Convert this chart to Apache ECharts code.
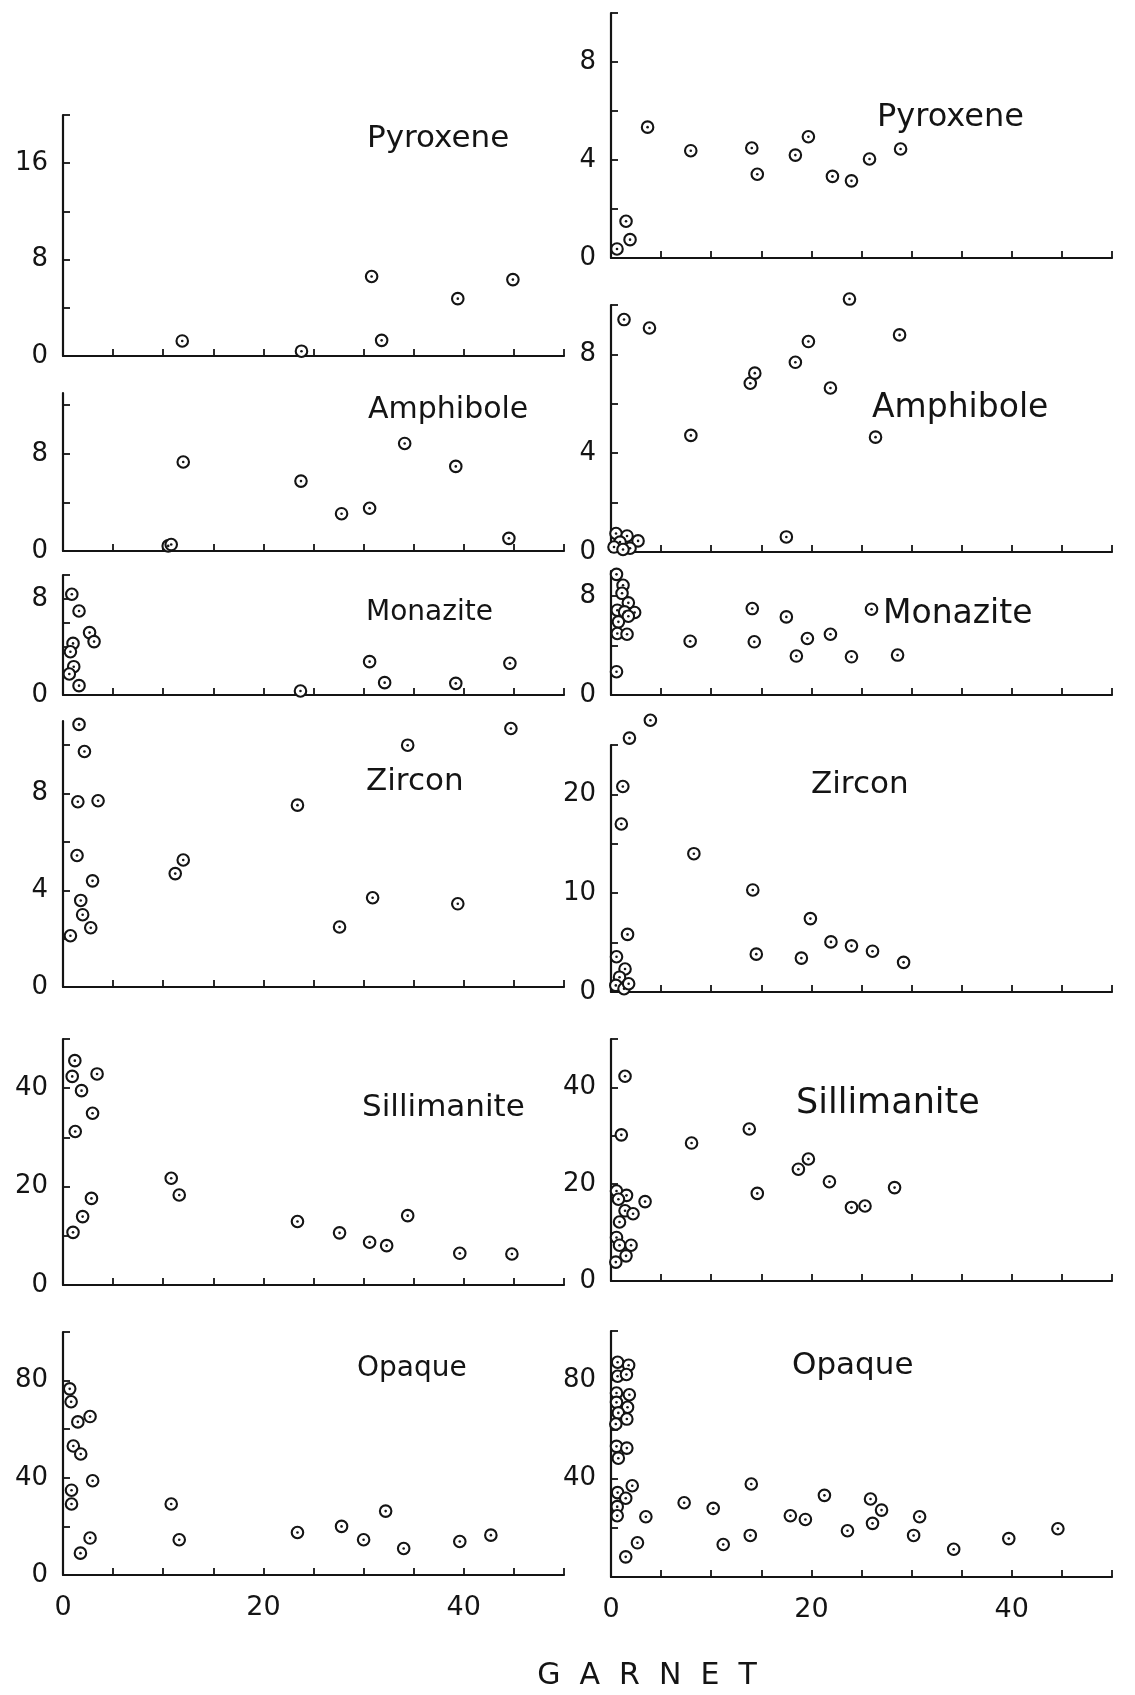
<!DOCTYPE html>
<html><head><meta charset="utf-8">
<script src="https://cdn.jsdelivr.net/npm/echarts@6/dist/echarts.min.js"></script>
<style>html,body{margin:0;padding:0;background:#fff}#c{width:1135px;height:1695px}</style>
</head><body><div id="c"></div>
<script>
// ---- data (x = garnet, y = mineral) ----
const pyroxeneL = [[11.9,1.25],[23.8,0.4],[30.8,6.6],[31.8,1.3],[39.4,4.76],[44.9,6.34]];
const pyroxeneR = [[0.6,0.37],[1.5,1.5],[1.9,0.75],[3.65,5.34],[7.96,4.38],[14.05,4.49],[14.6,3.42],[18.4,4.2],[19.7,4.95],[22.1,3.33],[24.0,3.15],[25.8,4.04],[28.9,4.45]];
const amphiboleL = [[10.5,0.42],[10.8,0.53],[12.0,7.32],[23.75,5.75],[27.8,3.07],[30.6,3.52],[34.1,8.85],[39.2,6.96],[44.5,1.04]];
const amphiboleR = [[1.3,9.41],[3.84,9.07],[7.97,4.72],[13.9,6.83],[14.35,7.24],[18.4,7.68],[19.7,8.52],[21.9,6.64],[23.8,10.24],[26.4,4.65],[28.8,8.79],[17.5,0.61],[0.5,0.75],[1.6,0.65],[2.7,0.45],[0.9,0.4],[0.3,0.2],[1.9,0.15],[1.2,0.1]];
const monaziteL = [[0.88,8.4],[1.6,7.0],[2.65,5.2],[3.1,4.45],[1.0,4.3],[0.74,3.6],[1.07,2.36],[0.63,1.75],[1.6,0.78],[23.7,0.33],[30.6,2.78],[32.1,1.03],[39.2,0.97],[44.6,2.64]];
const monaziteR = [[0.55,9.73],[1.2,8.85],[1.1,8.2],[1.73,7.43],[0.63,6.84],[1.36,6.7],[2.36,6.65],[1.73,6.35],[0.74,5.9],[0.63,4.96],[1.6,4.9],[0.55,1.88],[7.9,4.34],[14.1,6.97],[14.3,4.29],[17.5,6.3],[18.5,3.14],[19.6,4.56],[21.9,4.9],[24.0,3.08],[26.0,6.92],[28.6,3.22]];
const zirconL = [[1.6,10.86],[2.14,9.74],[1.48,7.66],[3.5,7.7],[1.4,5.44],[2.95,4.39],[1.77,3.58],[1.96,2.99],[2.77,2.45],[0.74,2.12],[11.2,4.69],[12.0,5.25],[23.4,7.52],[27.6,2.48],[30.9,3.69],[34.4,10.0],[39.4,3.44],[44.7,10.69]];
const zirconR = [[3.93,27.5],[1.84,25.7],[1.18,20.8],[1.03,17.0],[8.27,14.0],[14.15,10.33],[14.5,3.83],[19.9,7.43],[19.0,3.43],[21.95,5.07],[24.0,4.67],[26.1,4.13],[29.2,3.0],[1.65,5.83],[0.55,3.57],[1.4,2.33],[0.85,1.5],[0.48,0.67],[1.3,0.33],[1.76,0.83]];
const sillimaniteL = [[1.18,45.6],[0.92,42.4],[3.4,42.9],[1.85,39.5],[2.95,34.9],[1.22,31.2],[2.84,17.6],[1.96,13.9],[1.0,10.7],[10.8,21.7],[11.6,18.3],[23.4,12.9],[27.6,10.6],[30.6,8.68],[32.3,8.0],[34.4,14.1],[39.6,6.44],[44.8,6.3]];
const sillimaniteR = [[1.4,42.3],[1.03,30.2],[8.04,28.5],[13.8,31.4],[14.6,18.1],[18.7,23.1],[19.7,25.2],[21.8,20.5],[24.0,15.2],[25.35,15.5],[28.3,19.3],[3.4,16.4],[0.55,18.6],[1.55,17.7],[0.74,16.9],[1.4,14.5],[2.2,13.9],[0.85,12.2],[0.55,9.0],[0.85,7.4],[2.0,7.4],[1.5,5.2],[0.48,3.9]];
const opaqueL = [[0.67,76.6],[0.81,71.3],[1.48,63.0],[2.7,65.2],[1.03,53.1],[1.77,49.8],[2.96,38.8],[0.85,34.9],[0.85,29.2],[2.7,15.2],[1.74,9.0],[10.8,29.2],[11.6,14.5],[23.4,17.5],[27.8,20.0],[30.0,14.5],[32.2,26.3],[34.0,10.9],[39.6,13.8],[42.7,16.4]];
const opaqueR = [[0.66,87.3],[1.76,86.1],[0.66,81.6],[1.54,82.3],[0.55,74.8],[1.83,74.1],[0.55,71.0],[1.65,69.0],[0.73,66.7],[1.58,64.2],[0.48,62.2],[0.55,53.1],[1.58,52.4],[0.73,48.3],[2.12,37.1],[0.66,34.3],[1.47,32.0],[0.62,28.6],[0.62,24.9],[3.48,24.5],[2.64,13.9],[1.47,8.2],[7.3,30.2],[10.2,27.9],[11.2,13.2],[14.0,37.8],[13.9,16.9],[17.9,24.9],[19.4,23.4],[21.3,33.2],[23.6,18.8],[25.9,31.7],[26.1,21.8],[27.0,27.2],[30.2,16.9],[30.8,24.5],[34.2,11.3],[39.7,15.6],[44.6,19.6]];

// ---- tick values and labels ----
const xTicks = [0,5,10,15,20,25,30,35,40,45,50];
const xTickLabels = [0,20,40];
const yTicksPyroxeneL = [0,4,8,12,16,20];   const yLabelsPyroxeneL = [0,8,16];
const yTicksPyroxeneR = [0,2,4,6,8,10];     const yLabelsPyroxeneR = [0,4,8];
const yTicksAmphiboleL = [0,4,8,12];        const yLabelsAmphiboleL = [0,8];
const yTicksAmphiboleR = [0,2,4,6,8,10];    const yLabelsAmphiboleR = [0,4,8];
const yTicksMonaziteL = [0,2,4,6,8,10];     const yLabelsMonaziteL = [0,8];
const yTicksMonaziteR = [0,2,4,6,8,10];     const yLabelsMonaziteR = [0,8];
const yTicksZirconL = [0,2,4,6,8,10];       const yLabelsZirconL = [0,4,8];
const yTicksZirconR = [0,5,10,15,20,25];    const yLabelsZirconR = [0,10,20];
const yTicksSillL = [0,10,20,30,40,50];     const yLabelsSillL = [0,20,40];
const yTicksSillR = [0,10,20,30,40,50];     const yLabelsSillR = [0,20,40];
const yTicksOpaqueL = [0,20,40,60,80,100];  const yLabelsOpaqueL = [0,40,80];
const yTicksOpaqueR = [0,20,40,60,80,100];  const yLabelsOpaqueR = [40,80];
const axisTitle = 'G  A  R  N  E  T';

// ---- layout (pixel geometry) ----
const colLeft = [63, 611], colWidth = 501;
const panels = [
 {title:'Pyroxene',   data:pyroxeneL,   col:0, top:115,  bottom:356,  yMax:20,  ticks:yTicksPyroxeneL,  labels:yLabelsPyroxeneL,  tx:367, ty:139,  fs:31},
 {title:'Pyroxene',   data:pyroxeneR,   col:1, top:13,   bottom:258,  yMax:10,  ticks:yTicksPyroxeneR,  labels:yLabelsPyroxeneR,  tx:877, ty:118,  fs:32},
 {title:'Amphibole',  data:amphiboleL,  col:0, top:393,  bottom:551,  yMax:13,  ticks:yTicksAmphiboleL, labels:yLabelsAmphiboleL, tx:368, ty:410,  fs:30},
 {title:'Amphibole',  data:amphiboleR,  col:1, top:305,  bottom:552,  yMax:10,  ticks:yTicksAmphiboleR, labels:yLabelsAmphiboleR, tx:872, ty:408,  fs:33},
 {title:'Monazite',   data:monaziteL,   col:0, top:575,  bottom:695,  yMax:10,  ticks:yTicksMonaziteL,  labels:yLabelsMonaziteL,  tx:366, ty:613,  fs:28},
 {title:'Monazite',   data:monaziteR,   col:1, top:571,  bottom:695,  yMax:10,  ticks:yTicksMonaziteR,  labels:yLabelsMonaziteR,  tx:883, ty:614,  fs:33},
 {title:'Zircon',     data:zirconL,     col:0, top:721,  bottom:987,  yMax:11,  ticks:yTicksZirconL,    labels:yLabelsZirconL,    tx:366, ty:782,  fs:31},
 {title:'Zircon',     data:zirconR,     col:1, top:745,  bottom:992,  yMax:25,  ticks:yTicksZirconR,    labels:yLabelsZirconR,    tx:811, ty:785,  fs:31},
 {title:'Sillimanite',data:sillimaniteL,col:0, top:1039, bottom:1285, yMax:50,  ticks:yTicksSillL,      labels:yLabelsSillL,      tx:362, ty:1108, fs:31},
 {title:'Sillimanite',data:sillimaniteR,col:1, top:1039, bottom:1281, yMax:50,  ticks:yTicksSillR,      labels:yLabelsSillR,      tx:796, ty:1104, fs:35},
 {title:'Opaque',     data:opaqueL,     col:0, top:1332, bottom:1575, yMax:100, ticks:yTicksOpaqueL,    labels:yLabelsOpaqueL,    tx:357, ty:1369, fs:28, bottomRow:true},
 {title:'Opaque',     data:opaqueR,     col:1, top:1331, bottom:1577, yMax:100, ticks:yTicksOpaqueR,    labels:yLabelsOpaqueR,    tx:792, ty:1366, fs:31, bottomRow:true}
];

const INK = '#141414';
const FONT = '"DejaVu Sans", "Liberation Sans", sans-serif';
const grid = [], xAxis = [], yAxis = [], series = [], graphic = [];
panels.forEach((p, i) => {
  grid.push({left: colLeft[p.col], top: p.top, width: colWidth, height: p.bottom - p.top, containLabel: false, outerBoundsMode: 'none'});
  xAxis.push({
    type:'value', gridIndex:i, min:0, max:50, interval:5,
    axisLine:{show:true, onZero:false, lineStyle:{color:INK, width:2.2}},
    axisTick:{show:true, inside:true, length:7, lineStyle:{color:INK, width:1.8}, customValues:xTicks},
    axisLabel:{show:!!p.bottomRow, customValues:xTickLabels, color:INK, fontSize:27, fontFamily:FONT, margin:19},
    splitLine:{show:false}
  });
  yAxis.push({
    type:'value', gridIndex:i, min:0, max:p.yMax,
    axisLine:{show:true, onZero:false, lineStyle:{color:INK, width:2.2}},
    axisTick:{show:true, inside:true, length:7, lineStyle:{color:INK, width:1.8}, customValues:p.ticks},
    axisLabel:{show:true, customValues:p.labels, color:INK, fontSize:26, fontFamily:FONT, margin:15},
    splitLine:{show:false}
  });
  series.push({
    type:'scatter', xAxisIndex:i, yAxisIndex:i, data:p.data, clip:false,
    symbol:'circle', symbolSize:11.5,
    itemStyle:{color:'#ffffff', borderColor:INK, borderWidth:2.1, opacity:1}, z:2
  });
  series.push({
    type:'scatter', xAxisIndex:i, yAxisIndex:i, data:p.data, clip:false,
    symbol:'circle', symbolSize:2.6,
    itemStyle:{color:INK, opacity:1}, z:3, silent:true
  });
  graphic.push({type:'text', x:p.tx, y:p.ty, style:{text:p.title, fontSize:p.fs, fontFamily:FONT, fill:INK, verticalAlign:'middle', align:'left'}});
});
graphic.push({type:'text', x:647, y:1676, style:{text:axisTitle, fontSize:30, fontFamily:FONT, fill:INK, verticalAlign:'middle', align:'center'}});

const chart = echarts.init(document.getElementById('c'), null, {renderer:'canvas'});
chart.setOption({animation:false, backgroundColor:'#ffffff', grid, xAxis, yAxis, series, graphic});
</script></body></html>
